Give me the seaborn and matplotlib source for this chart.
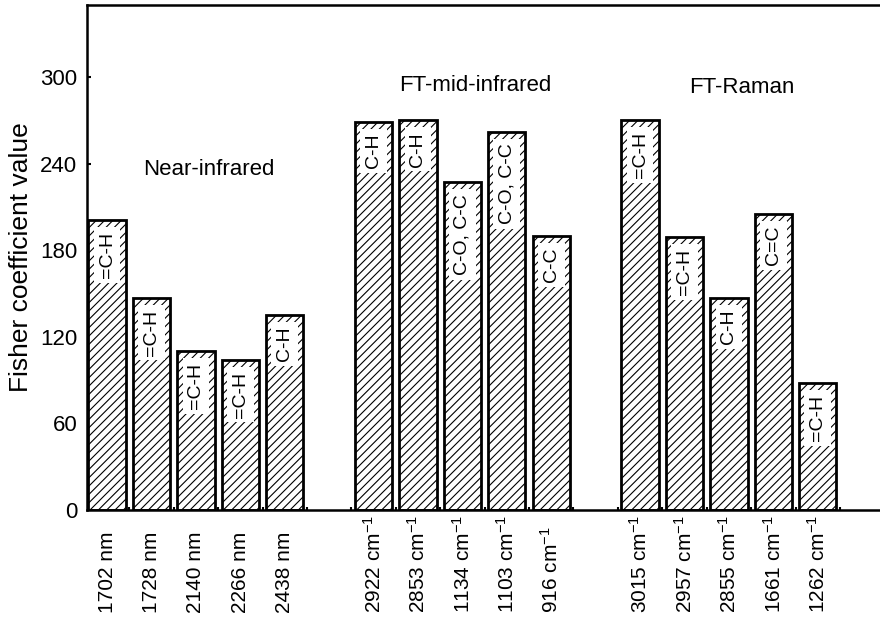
import seaborn as sns
import pandas as pd
import matplotlib.pyplot as plt

# Values
groups = ['Near-infrared', 'FT-mid-infrared', 'FT-Raman']
group_label_y = [236, 294, 293]

nir_bands = ['1702 nm', '1728 nm', '2140 nm', '2266 nm', '2438 nm']
nir_values = [201, 147, 110, 104, 135]
nir_bonds = ['=C-H', '=C-H', '=C-H', '=C-H', 'C-H']

mir_bands = ['2922 cm$^{-1}$', '2853 cm$^{-1}$', '1134 cm$^{-1}$', '1103 cm$^{-1}$', '916 cm$^{-1}$']
mir_values = [269, 270, 227, 262, 190]
mir_bonds = ['C-H', 'C-H', 'C-O, C-C', 'C-O, C-C', 'C-C']

raman_bands = ['3015 cm$^{-1}$', '2957 cm$^{-1}$', '2855 cm$^{-1}$', '1661 cm$^{-1}$', '1262 cm$^{-1}$']
raman_values = [270, 189, 147, 205, 88]
raman_bonds = ['=C-H', '=C-H', 'C-H', 'C=C', '=C-H']

yticks = [0, 60, 120, 180, 240, 300]

# one empty slot between the groups
bands = nir_bands + mir_bands + raman_bands
values = nir_values + mir_values + raman_values
bonds = nir_bonds + mir_bonds + raman_bonds
pos = [g * 6 + i for g in range(3) for i in range(5)]
data = pd.DataFrame({'pos': pos, 'value': values, 'band': bands, 'bond': bonds})

sns.set_theme(style='white')
plt.rcParams['font.family'] = ['Liberation Sans', 'DejaVu Sans']
plt.rcParams['mathtext.default'] = 'regular'
plt.rcParams['hatch.linewidth'] = 0.8
for k in ['text.color', 'axes.labelcolor', 'xtick.color', 'ytick.color']:
    plt.rcParams[k] = 'black'

fig = plt.figure(figsize=(8.8, 6.17), dpi=100)
ax = fig.add_axes([0.0989, 0.1734, 0.9011, 0.8185])

sns.barplot(data=data, x='pos', y='value', native_scale=True, width=0.84,
            color='white', edgecolor='black', linewidth=2, ax=ax)
for p in ax.patches:
    p.set_facecolor('white')
    p.set_edgecolor('black')
    p.set_hatch('////')

# bond labels inside the bars
for x, v, b in zip(data.pos, data.value, data.bond):
    ax.text(x, v - 8, b, rotation=90, ha='center', va='top', fontsize=14,
            bbox=dict(boxstyle='square,pad=0.25', fc='white', ec='none'))

# group names
for g, name in enumerate(groups):
    ax.text(g * 6 + 2.3, group_label_y[g], name, ha='center', va='center', fontsize=16)

ax.set_xlim(-0.45, 17.4)
ax.set_ylim(0, 350)
ax.set_yticks(yticks)
ax.set_xticks(pos)
ax.set_xticklabels(bands, rotation=90, fontsize=15)
plt.setp(ax.get_xticklabels(), va='bottom')
ax.set_xticks([k + 0.5 for k in range(17)], minor=True)
ax.tick_params(axis='x', which='major', length=0, pad=74)
ax.tick_params(axis='x', which='minor', direction='in', length=2.5, width=1.5, bottom=True)
ax.tick_params(axis='y', direction='in', length=3, width=1.5, left=True, labelsize=16, pad=7)
ax.set_xlabel('')
ax.set_ylabel('Fisher coefficient value', fontsize=19, labelpad=5)

ax.spines['right'].set_visible(False)
for s in ['top', 'left', 'bottom']:
    ax.spines[s].set_linewidth(1.8)
    ax.spines[s].set_color('black')

fig.savefig('out.png', dpi=100)
